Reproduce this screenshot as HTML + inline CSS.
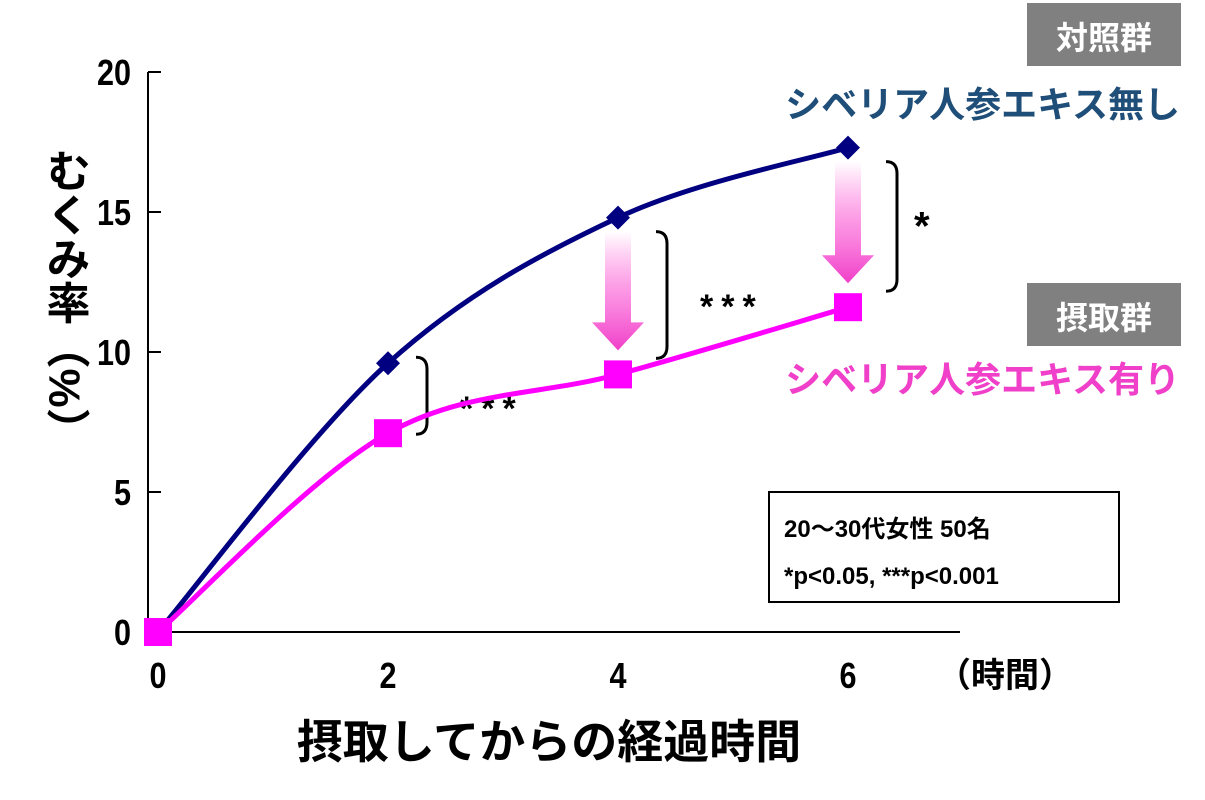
<!DOCTYPE html>
<html><head><meta charset="utf-8"><style>
html,body{margin:0;padding:0;background:#fff;}
svg text{font-family:"Liberation Sans","Noto Sans CJK JP",sans-serif;font-weight:bold;}
</style></head><body>
<svg id="chart" width="1205" height="795" viewBox="0 0 1205 795" xmlns="http://www.w3.org/2000/svg">
<defs>
<linearGradient id="ag" x1="0" y1="0" x2="0" y2="1">
<stop offset="0" stop-color="#ff3fcf" stop-opacity="0"/>
<stop offset="0.6" stop-color="#f96ad8" stop-opacity="0.8"/>
<stop offset="1" stop-color="#f03fc8"/>
</linearGradient>
</defs>
<g id="axes"></g>
<g id="marks"></g>
<text x="64" y="300" font-size="44" style="writing-mode:vertical-rl" text-anchor="middle">むくみ率（%）</text>
<text x="549" y="758" font-size="46" text-anchor="middle">摂取してからの経過時間</text>
<text x="1005" y="687" font-size="34" text-anchor="middle">（時間）</text>
<rect x="1027" y="3" width="154" height="63" fill="#808080"/>
<text x="1104" y="49" font-size="32" fill="#fff" text-anchor="middle">対照群</text>
<text x="1180" y="117" font-size="36" fill="#1f4e79" text-anchor="end">シベリア人参エキス無し</text>
<rect x="1027" y="283" width="154" height="63" fill="#808080"/>
<text x="1104" y="329" font-size="32" fill="#fff" text-anchor="middle">摂取群</text>
<text x="1180" y="392" font-size="36" fill="#f03fc8" text-anchor="end">シベリア人参エキス有り</text>
<rect x="769" y="492" width="350" height="110" fill="#fff" stroke="#000" stroke-width="2"/>
<text x="784" y="537" font-size="24">20～30代女性 50名</text>
<text x="784" y="584" font-size="24">*p&lt;0.05, ***p&lt;0.001</text>
</svg>
<script>
const hours=[0,2,4,6];
const controlValues=[0,9.6,14.8,17.3];
const intakeValues=[0,7.1,9.2,11.6];
const yTicks=[0,5,10,15,20];
const xTicks=[0,2,4,6];
const sigLabels=["","***","***","*"];
const NS="http://www.w3.org/2000/svg";
const X=v=>158+v*115, Y=v=>632-v*28;
function mk(t,a,p){const e=document.createElementNS(NS,t);for(const k in a)e.setAttribute(k,a[k]);p.appendChild(e);return e;}
const ax=document.getElementById('axes'), mg=document.getElementById('marks');
let e=mk('line',{x1:148,y1:Y(20),x2:148,y2:632,stroke:'#000','stroke-width':2},ax);


e=mk('line',{x1:148,y1:632,x2:960,y2:632,stroke:'#000','stroke-width':2},ax);


yTicks.forEach(t=>{
 let l=mk('line',{x1:148,y1:Y(t),x2:161,y2:Y(t),stroke:'#000','stroke-width':2},ax);
 
 
 let s=mk('text',{x:0,y:0,'font-size':36,'text-anchor':'end',transform:'translate(131,'+(Y(t)+13)+') scale(0.85,1)'},ax);
 s.textContent=t;
 
 
});
xTicks.forEach(t=>{
 let s=mk('text',{x:0,y:0,'font-size':36,'text-anchor':'middle',transform:'translate('+X(t)+',688) scale(0.85,1)'},ax);
 s.textContent=t;
 
 
});
function smooth(xs,ys){
 const p=xs.map((x,i)=>[X(x),Y(ys[i])]);
 let d='M'+p[0][0]+','+p[0][1];
 for(let i=0;i<p.length-1;i++){
  const p0=p[Math.max(0,i-1)],p1=p[i],p2=p[i+1],p3=p[Math.min(p.length-1,i+2)];
  const c1=[p1[0]+(p2[0]-p0[0])/6,p1[1]+(p2[1]-p0[1])/6],c2=[p2[0]-(p3[0]-p1[0])/6,p2[1]-(p3[1]-p1[1])/6];
  d+='C'+c1[0]+','+c1[1]+' '+c2[0]+','+c2[1]+' '+p2[0]+','+p2[1];
 }
 return d;
}
hours.forEach((h,i)=>{
 if(i===0)return;
 const x=X(h), yt=Y(controlValues[i]), yb=Y(intakeValues[i]);
 if(i>1){
  const a=mk('path',{d:'M'+(x-13)+','+(yt+14)+' L'+(x+13)+','+(yt+14)+' L'+(x+13)+','+(yb-52)+' L'+(x+26)+','+(yb-52)+' L'+x+','+(yb-24)+' L'+(x-26)+','+(yb-52)+' L'+(x-13)+','+(yb-52)+' Z',fill:'url(#ag)'},mg);
  
  
 }
 const bx=i===1?X(h)+28:X(h)+38;
 const t0=yt+(i===1?-6:14), b0=yb-(i===1?-1:16);
 const b=mk('path',{d:'M'+bx+','+t0+' Q'+(bx+11)+','+t0+' '+(bx+11)+','+(t0+12)+' L'+(bx+11)+','+(b0-12)+' Q'+(bx+11)+','+b0+' '+bx+','+b0,fill:'none',stroke:'#000','stroke-width':3},mg);
 
 
 const s=mk('text',{x:bx+(i===3?28:44),y:(yt+yb)/2+(i===3?12:22),'font-size':i===3?40:34,'letter-spacing':i===3?0:8},mg);
 s.textContent=sigLabels[i];
 
 
});
e=mk('path',{d:smooth(hours,controlValues),fill:'none',stroke:'#000080','stroke-width':5},mg);


e=mk('path',{d:smooth(hours,intakeValues),fill:'none',stroke:'#ff00ff','stroke-width':5},mg);


hours.forEach((h,i)=>{
 const x=X(h),y=Y(controlValues[i]);
 const d=mk('path',{d:'M'+x+','+(y-12)+' L'+(x+12)+','+y+' L'+x+','+(y+12)+' L'+(x-12)+','+y+' Z',fill:'#000080'},mg);
 
 
});
hours.forEach((h,i)=>{
 const x=X(h),y=Y(intakeValues[i]);
 const r=mk('rect',{x:x-14,y:y-14,width:28,height:28,fill:'#ff00ff'},mg);
 
 
});
</script>
</body></html>
